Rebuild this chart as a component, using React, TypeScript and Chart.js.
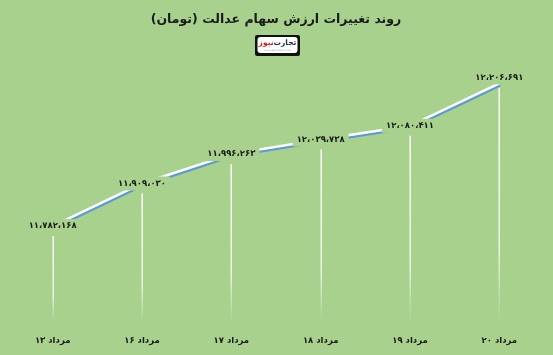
import React, { useEffect, useRef } from "react";
import { Chart, registerables } from "chart.js";

Chart.register(...registerables);

const categories = ["۱۳ مرداد", "۱۶ مرداد", "۱۷ مرداد", "۱۸ مرداد", "۱۹ مرداد", "۲۰ مرداد"];
const values = [11782168, 11909030, 11996263, 12039738, 12080411, 12206691];
const labelOffsets = [0, 0, 0, 0, 0, -6];
const titleText = "روند تغییرات ارزش سهام عدالت (تومان)";
const logoMain = "تجارت";
const logoAccent = "نیوز";
const yMin = 11500000;
const yMax = 12300000;

const BG = "#A9D18E";
const FONT = "'DejaVu Sans', sans-serif";

function toPersian(n: number): string {
  const s = Math.round(n).toString().replace(/\B(?=(\d{3})+(?!\d))/g, "،");
  return s.replace(/\d/g, (d) => "۰۱۲۳۴۵۶۷۸۹"[Number(d)]);
}

const decorPlugin = {
  id: "decor",
  beforeDraw(chart: any) {
    const ctx = chart.ctx;
    ctx.save();
    ctx.fillStyle = BG;
    ctx.fillRect(0, 0, chart.width, chart.height);
    ctx.restore();
  },
  beforeDatasetsDraw(chart: any) {
    const ctx = chart.ctx;
    const meta = chart.getDatasetMeta(0);
    const bottom = chart.chartArea.bottom;
    ctx.save();
    meta.data.forEach((pt: any, i: number) => {
      const top = pt.y + labelOffsets[i] + 10;
      const g = ctx.createLinearGradient(0, top, 0, bottom);
      g.addColorStop(0, "rgba(255,255,255,1)");
      g.addColorStop(0.7, "rgba(255,255,255,0.75)");
      g.addColorStop(1, "rgba(255,255,255,0)");
      ctx.strokeStyle = g;
      ctx.lineWidth = 1.5;
      ctx.beginPath();
      ctx.moveTo(Math.round(pt.x) + 0.25, top);
      ctx.lineTo(Math.round(pt.x) + 0.25, bottom);
      ctx.stroke();
    });
    ctx.restore();
  },
  beforeDatasetDraw(chart: any) {
    const ctx = chart.ctx;
    ctx.save();
    ctx.shadowColor = "#5B9BD5";
    ctx.shadowOffsetX = 1;
    ctx.shadowOffsetY = 2;
    ctx.shadowBlur = 0;
  },
  afterDatasetDraw(chart: any) {
    chart.ctx.restore();
  },
  afterDatasetsDraw(chart: any) {
    const ctx = chart.ctx;
    const meta = chart.getDatasetMeta(0);
    ctx.save();
    ctx.font = `bold 8.5px ${FONT}`;
    ctx.textAlign = "center";
    ctx.textBaseline = "middle";
    meta.data.forEach((pt: any, i: number) => {
      const txt = toPersian(values[i]);
      const y = pt.y + labelOffsets[i];
      const w = ctx.measureText(txt).width;
      ctx.fillStyle = BG;
      ctx.fillRect(pt.x - w / 2 - 4, y - 7, w + 8, 14);
      ctx.fillStyle = "#1a1a1a";
      ctx.fillText(txt, pt.x, y);
    });
    ctx.restore();
  },
  afterDraw(chart: any) {
    const ctx = chart.ctx;
    ctx.save();
    // title
    ctx.direction = "rtl";
    ctx.font = `bold 12.5px ${FONT}`;
    ctx.fillStyle = "#1a1a1a";
    ctx.textAlign = "center";
    ctx.textBaseline = "middle";
    ctx.fillText(titleText, 276, 20);
    // logo
    ctx.direction = "ltr";
    ctx.fillStyle = "#111";
    ctx.beginPath();
    ctx.roundRect(255, 35, 45, 21, 2);
    ctx.fill();
    ctx.fillStyle = "#fff";
    ctx.beginPath();
    ctx.roundRect(257.5, 37, 40, 16, 3);
    ctx.fill();
    ctx.font = `bold 7.5px ${FONT}`;
    ctx.textBaseline = "middle";
    const wMain = ctx.measureText(logoMain).width;
    const wAcc = ctx.measureText(logoAccent).width;
    const total = wMain + wAcc;
    const startX = 277.5 - total / 2;
    ctx.textAlign = "left";
    ctx.fillStyle = "#d11a1a";
    ctx.fillText(logoAccent, startX, 43.5);
    ctx.fillStyle = "#1b2a5a";
    ctx.fillText(logoMain, startX + wAcc, 43.5);
    ctx.fillStyle = "#aaa";
    ctx.font = `2.5px ${FONT}`;
    ctx.textAlign = "center";
    ctx.fillText("www.tejaratnews.com", 277.5, 50.5);
    ctx.restore();
  },
};

export default function App() {
  const ref = useRef<HTMLCanvasElement | null>(null);
  useEffect(() => {
    document.body.style.margin = "0";
    if (!ref.current) return;
    const chart = new Chart(ref.current, {
      type: "line",
      data: {
        labels: categories,
        datasets: [
          {
            data: values,
            borderColor: "#ffffff",
            borderWidth: 2.5,
            pointRadius: 0,
            tension: 0,
            fill: false,
          },
        ],
      },
      options: {
        animation: false,
        responsive: false,
        devicePixelRatio: 1,
        layout: { padding: { left: 8, right: 9, top: 52, bottom: 4 } },
        plugins: {
          legend: { display: false },
          tooltip: { enabled: false },
          title: { display: false },
        },
        scales: {
          x: {
            offset: true,
            grid: { display: false, drawTicks: false },
            border: { display: false },
            afterFit: (scale: any) => {
              scale.height = 30;
            },
            ticks: {
              padding: 15,
              color: "#1a1a1a",
              font: { family: "DejaVu Sans", size: 8.5, weight: "bold" },
              maxRotation: 0,
            },
          },
          y: {
            display: false,
            min: yMin,
            max: yMax,
          },
        },
      },
      plugins: [decorPlugin],
    });
    return () => chart.destroy();
  }, []);
  return (
    <div style={{ width: 553, height: 355 }}>
      <canvas ref={ref} width={553} height={355} />
    </div>
  );
}
